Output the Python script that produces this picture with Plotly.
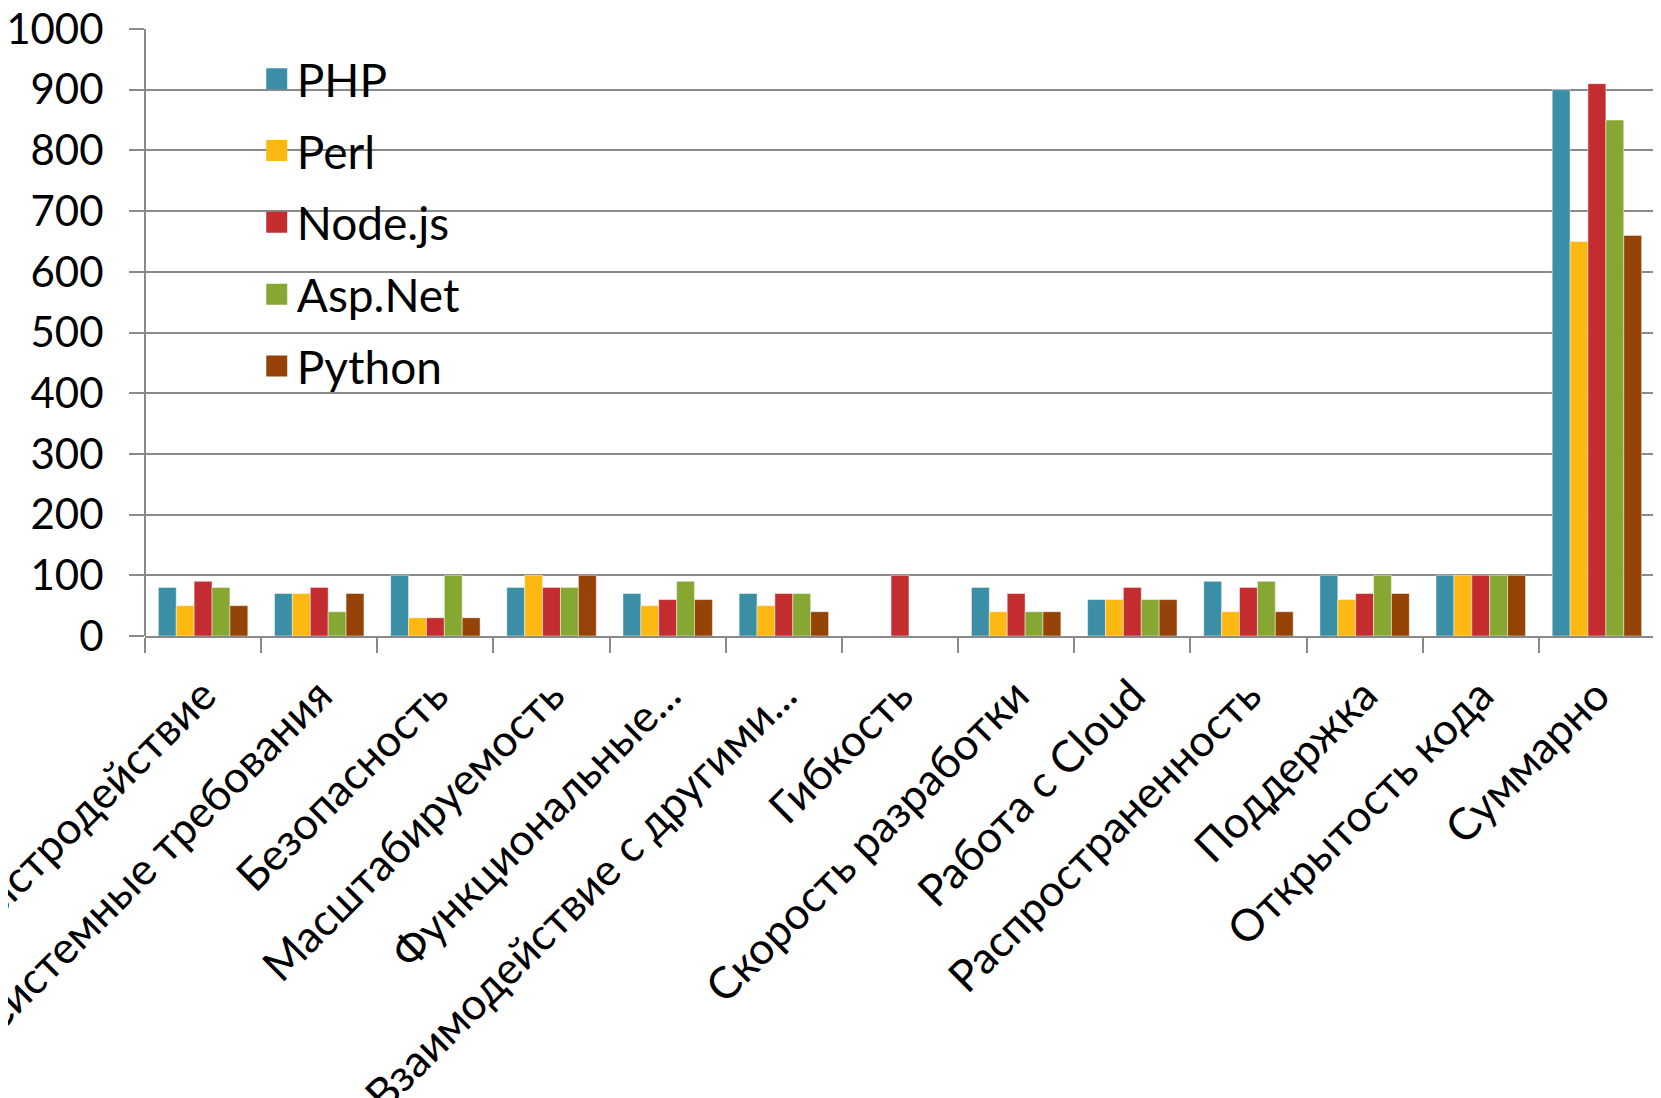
import plotly.graph_objects as go

categories = [
    "Быстродействие",
    "Системные требования",
    "Безопасность",
    "Масштабируемость",
    "Функциональные...",
    "Взаимодействие с другими...",
    "Гибкость",
    "Скорость разработки",
    "Работа с Cloud",
    "Распространенность",
    "Поддержка",
    "Открытость кода",
    "Суммарно",
]

php    = [80, 70, 100, 80, 70, 70, 0, 80, 60, 90, 100, 100, 900]
perl   = [50, 70, 30, 100, 50, 50, 0, 40, 60, 40, 60, 100, 650]
nodejs = [90, 80, 30, 80, 60, 70, 100, 70, 80, 80, 70, 100, 910]
aspnet = [80, 40, 100, 80, 90, 70, 0, 40, 60, 90, 100, 100, 850]
python = [50, 70, 30, 100, 60, 40, 0, 40, 60, 40, 70, 100, 660]

series_names = ["PHP", "Perl", "Node.js", "Asp.Net", "Python"]
series_values = [php, perl, nodejs, aspnet, python]
colors = ["#3A8FA6", "#FDB812", "#C42D2F", "#86A833", "#954306"]

y_ticks = list(range(0, 1001, 100))

FONT = "Lato, 'Open Sans', sans-serif"
GRID = "#8a8a8a"

fig = go.Figure()

for name, vals, col in zip(series_names, series_values, colors):
    fig.add_trace(go.Bar(
        x=categories, y=vals, name=name,
        marker=dict(color=col, line=dict(color="rgba(255,255,255,0.45)", width=1)),
        showlegend=False,
    ))

# legend entries (larger square swatches)
for name, col in zip(series_names, colors):
    fig.add_trace(go.Scatter(
        x=[None], y=[None], mode="markers", name=name, legendgroup=name,
        marker=dict(symbol="square", size=16, color=col, line=dict(color=col, width=5)),
        showlegend=True,
    ))

fig.update_layout(
    width=1661, height=1098,
    template="none",
    paper_bgcolor="white", plot_bgcolor="white",
    margin=dict(l=137, r=14, t=21, b=470, autoexpand=False),
    barmode="group",
    bargap=0.23, bargroupgap=0.0,
    font=dict(family=FONT, size=44, color="black"),
    legend=dict(
        x=0.074, y=0.978, xanchor="left", yanchor="top",
        bgcolor="rgba(0,0,0,0)", borderwidth=0,
        font=dict(family=FONT, size=46, color="black"),
        itemsizing="trace", traceorder="grouped", tracegroupgap=9,
    ),
    xaxis=dict(
        type="category", categoryorder="array", categoryarray=categories,
        tickangle=-45, tickson="boundaries",
        ticks="outside", ticklen=15, tickwidth=2, tickcolor=GRID,
        showline=True, linecolor=GRID, linewidth=2,
        showgrid=False, zeroline=False, automargin=False,
        ticklabelstandoff=14,
        tickfont=dict(family=FONT, size=44, color="black"),
    ),
    yaxis=dict(
        range=[0, 1000.01], tickvals=y_ticks,
        ticks="outside", ticklen=15, tickwidth=2, tickcolor=GRID,
        showline=False,
        showgrid=True, gridcolor=GRID, gridwidth=2,
        zeroline=False, automargin=False,
        ticklabelstandoff=17, ticklabeloverflow="allow",
        tickfont=dict(family=FONT, size=42, color="black"),
    ),
    shapes=[dict(type="line", xref="paper", yref="paper", x0=0, x1=0, y0=0, y1=1,
                 line=dict(color=GRID, width=2), layer="above")],
)

fig.write_html("out.html")
